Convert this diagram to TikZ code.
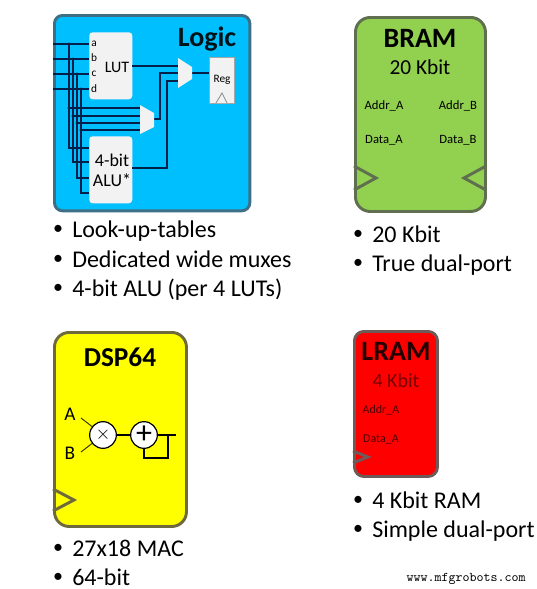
\documentclass[tikz,border=0pt]{standalone}
\usepackage{fontspec}
\setmainfont{Carlito}
\definecolor{logicblue}{HTML}{00BFFF}
\definecolor{logicedge}{HTML}{3F6F85}
\definecolor{bramgreen}{HTML}{92D050}
\definecolor{bramedge}{HTML}{5F6F50}
\definecolor{dspyellow}{HTML}{FFFF00}
\definecolor{dspedge}{HTML}{6F6A3C}
\definecolor{lramred}{HTML}{FF0000}
\definecolor{lramedge}{HTML}{6F5A5A}
\definecolor{wire}{HTML}{04204A}
\definecolor{pale}{HTML}{F2F2F2}
\tikzset{
  x=0.75pt,y=-0.75pt,
  blockbox/.style={draw=#1,line width=2.2pt,rounded corners=9pt},
  clk/.style={draw=#1,line width=2.2pt,line join=miter},
  pin/.style={font=\fontsize{9.5}{11}\selectfont,inner sep=0pt},
  title/.style={font=\fontsize{21}{24}\selectfont\bfseries,inner sep=0pt},
  sub/.style={font=\fontsize{16}{18}\selectfont,inner sep=0pt},
  bullets/.style={font=\fontsize{18}{20}\selectfont,inner sep=0pt,anchor=base west},
  dot/.style={font=\fontsize{15}{18}\selectfont,inner sep=0pt},
  sig/.style={draw=wire,line width=1.15pt},
  lightbox/.style={fill=pale,draw=none,rounded corners=2.5pt,inner sep=0pt},
  muxs/.style={fill=pale,draw=none},
  op/.style={circle,draw=black,fill=white,line width=0.9pt,minimum size=20pt,inner sep=0pt},
  dspsig/.style={draw=black,line width=1.3pt},
}
\begin{document}
\begin{tikzpicture}
\useasboundingbox (0,0) rectangle (536,589);
% LOGIC
\node[blockbox=logicedge,fill=logicblue,minimum width=146.5pt,minimum height=146.5pt,inner sep=0pt,anchor=north west,rounded corners=6pt] (logic) at (53,14) {};
\node[title,text=black!90!logicblue] (logictitle) at (207,39) {Logic};
\node[lightbox,minimum width=32.25pt,minimum height=50.25pt,anchor=north west] (lut) at (89,32) {};
\node[lightbox,minimum width=32.25pt,minimum height=50.25pt,anchor=north west] (alu) at (89,136) {};
\coordinate (a0) at (53,44); \coordinate (b0) at (53,59); \coordinate (c0) at (53,74); \coordinate (d0) at (53,89);
\coordinate (a1) at (89,44); \coordinate (b1) at (89,59); \coordinate (c1) at (89,74); \coordinate (d1) at (89,89);
\draw[sig] (a0)--(a1); \draw[sig] (b0)--(b1); \draw[sig] (c0)--(c1); \draw[sig] (d0)--(d1);
\coordinate (va) at (69,44); \coordinate (vb) at (73,59); \coordinate (vc) at (77,74); \coordinate (vd) at (81,89);
\draw[sig] (va)--(69,148)--(89,148);
\draw[sig] (vb)--(73,162)--(89,162);
\draw[sig] (vc)--(77,178)--(89,178);
\draw[sig] (vd)--(81,193)--(89,193);
\draw[sig] (69,108)--(140,108);
\draw[sig] (73,116)--(140,116);
\draw[sig] (77,123)--(140,123);
\draw[sig] (81,130)--(140,130);
\fill[wire] (69,44) circle (1.7) (73,59) circle (1.7) (77,74) circle (1.7) (81,89) circle (1.7)
 (69,108) circle (1.7) (73,116) circle (1.7) (77,123) circle (1.7) (81,130) circle (1.7);
\node[pin,font=\fontsize{8.5}{10}\selectfont] (pa) at (94,44) {a};
\node[pin,font=\fontsize{8.5}{10}\selectfont] (pb) at (94,58) {b};
\node[pin,font=\fontsize{8.5}{10}\selectfont] (pc) at (94,74) {c};
\node[pin,font=\fontsize{8.5}{10}\selectfont] (pd) at (94,89) {d};
\node[inner sep=0pt,font=\fontsize{12}{14}\selectfont] (luttxt) at (117,67) {LUT};
\node[inner sep=0pt,font=\fontsize{13.5}{15}\selectfont,align=center] (alutxt) at (112,170) {4-bit\\[0pt]ALU*};
% muxes
\draw[sig] (154,119)--(160,119)--(160,73)--(178,73);
\draw[sig] (132,66)--(178,66);
\draw[sig] (132,168)--(167,168)--(167,81)--(178,81);
\draw[sig] (192,73)--(209,73);
\fill[muxs] (140,105)--(154,113)--(154,127)--(140,134)--cycle;
\fill[muxs] (178,58)--(192,67)--(192,79)--(178,88)--cycle;
\node[fill=pale,draw=black!35,line width=0.5pt,minimum width=18.75pt,minimum height=34.5pt,inner sep=0pt,anchor=north west] (reg) at (209,57) {};
\node[inner sep=0pt,font=\fontsize{8.5}{10}\selectfont] (regtxt) at (222,80) {Reg};
\draw[draw=black!45,line width=0.6pt,fill=pale] (216,103)--(222,93)--(227,103);
% BRAM
\node[blockbox=bramedge,fill=bramgreen,minimum width=97.5pt,minimum height=145.5pt,inner sep=0pt,anchor=north west,rounded corners=11pt] (bram) at (354,16) {};
\draw[clk=bramedge] (354,166)--(376,178)--(354,190);
\draw[clk=bramedge] (486,166)--(464,178)--(486,190);
\node[title] (bramt) at (420,38) {BRAM};
\node[sub] (bramk) at (420,67) {20 Kbit};
\node[pin] (baa) at (384,106) {Addr\_A};
\node[pin] (bab) at (458,106) {Addr\_B};
\node[pin] (bda) at (384,140) {Data\_A};
\node[pin] (bdb) at (458,140) {Data\_B};
% DSP
\node[blockbox=dspedge,fill=dspyellow,minimum width=99pt,minimum height=145.5pt,inner sep=0pt,anchor=north west,rounded corners=11pt] (dsp) at (53,331) {};
\draw[clk=dspedge] (53,489)--(74,500)--(53,511);
\node[title,font=\fontsize{20.5}{24}\selectfont\bfseries] (dspt) at (120,357) {DSP64};
\node[op] (mul) at (103,435) {\fontsize{15}{15}\selectfont$\times$};
\node[op] (add) at (144,435) {\fontsize{24}{24}\selectfont +};
\node[inner sep=0pt,font=\fontsize{14.5}{16}\selectfont] (la) at (70,414) {A};
\node[inner sep=0pt,font=\fontsize{14.5}{16}\selectfont] (lb) at (70,453) {B};
\coordinate (ia) at (81,418); \coordinate (ib) at (81,452); \coordinate (ox) at (176,435);
\draw[draw=black!80!dspyellow,line width=0.7pt] (ia)--(mul); \draw[draw=black!80!dspyellow,line width=0.7pt] (ib)--(mul);
\draw[dspsig] (mul)--(add);
\draw[dspsig] (add)--(ox);
\draw[dspsig] (168,435)--(168,458)--(144,458)--(add);
% LRAM
\node[blockbox=lramedge,fill=lramred,minimum width=62.25pt,minimum height=108.75pt,inner sep=0pt,anchor=north west,rounded corners=7pt] (lram) at (353,330) {};
\draw[clk=lramedge] (353,451)--(368,457)--(353,463);
\node[title,text=black!85!red] (lramt) at (396,351) {LRAM};
\node[sub,font=\fontsize{15}{17}\selectfont,text=black!55!red] (lramk) at (396,381) {4 Kbit};
\node[pin,font=\fontsize{9}{11}\selectfont,text=black!70!red] (laa) at (381,410) {Addr\_A};
\node[pin,font=\fontsize{9}{11}\selectfont,text=black!70!red] (lda) at (381,439) {Data\_A};
% bullets
\foreach \n/\y/\t in {l1/230/Look-up-tables,l2/260/Dedicated wide muxes,l3/289/4-bit ALU (per 4 LUTs)}{
  \node[dot] at (58,\y) {•}; \node[bullets] (\n) at (72,\y+7.5) {\t};}
\foreach \n/\y/\t in {b1/235/20 Kbit,b2/264/True dual-port}{
  \node[dot] at (358,\y) {•}; \node[bullets] (\n) at (372,\y+7.5) {\t};}
\foreach \n/\y/\t in {d1/549/27x18 MAC,d2/578/64-bit}{
  \node[dot] at (58,\y) {•}; \node[bullets] (\n) at (72,\y+7.5) {\t};}
\foreach \n/\y/\t in {r1/501/4 Kbit RAM,r2/530/Simple dual-port}{
  \node[dot] at (358,\y) {•}; \node[bullets] (\n) at (372,\y+7.5) {\t};}
\node[inner sep=0pt,anchor=east,font=\ttfamily\fontsize{10}{11}\selectfont] (wm) at (526,579) {www.mfgrobots.com};
\end{tikzpicture}
\end{document}
